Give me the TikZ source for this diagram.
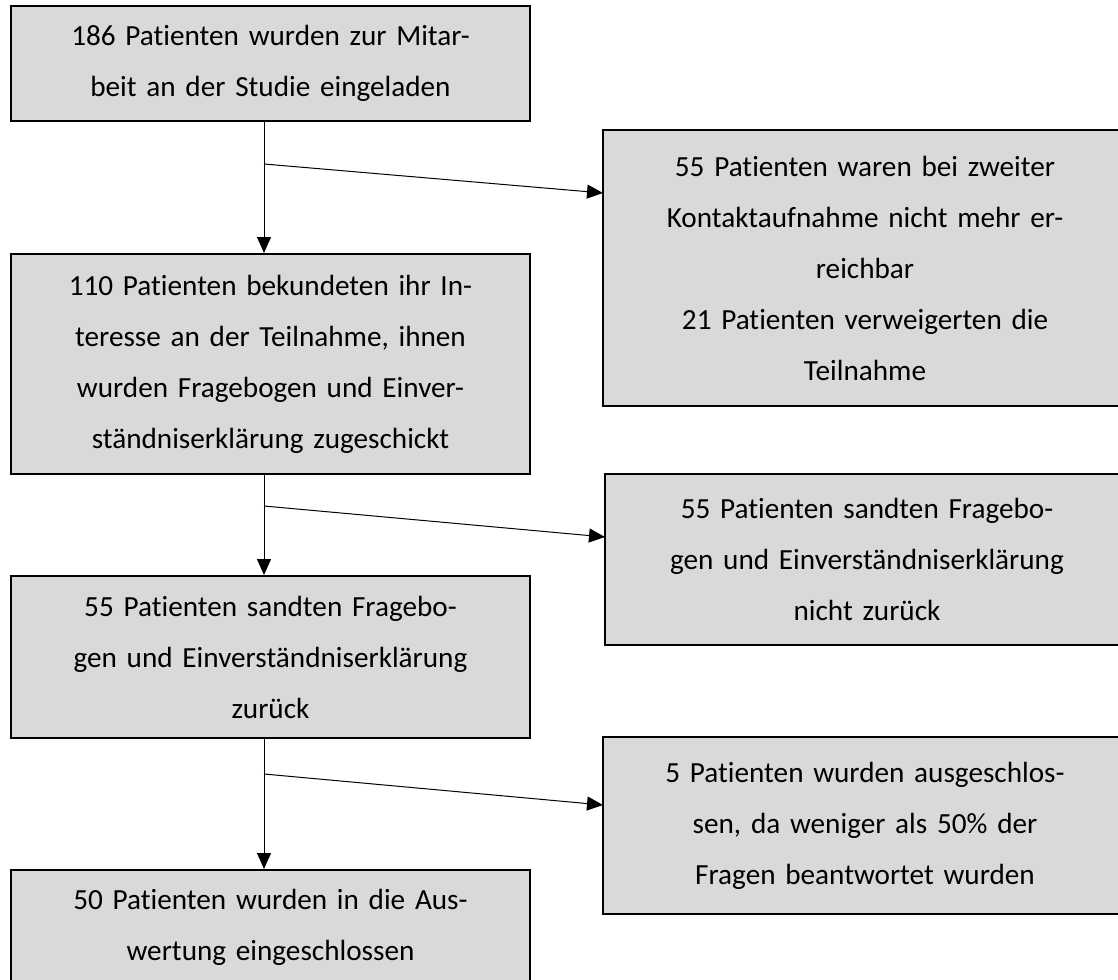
\documentclass[tikz,border=0pt]{standalone}
\usepackage{fontspec}
\setmainfont{Carlito}[Ligatures=NoCommon]
\usetikzlibrary{arrows.meta,backgrounds}
\definecolor{kastengrau}{HTML}{D9D9D9}

\begin{document}
\begin{tikzpicture}[x=0.5pt, y=-0.5pt, >={Triangle[length=8pt,width=7pt]},
    rand/.style={draw, line width=1pt, fill=kastengrau},
    kasten/.style={rand, anchor=north west,
        text width=255pt, inner xsep=2pt, minimum width=259.5pt, align=center,
        font=\fontsize{14.6}{25.5}\selectfont},
    rechts/.style={kasten, draw=none, fill=none, minimum width=261pt},
    pfeil/.style={->, line width=0.5pt}]
    \useasboundingbox (0,0) rectangle (1118,979);
    \clip (0,0) rectangle (1118,979);
    % Knoten
    \node (b1) [kasten, minimum height=57.5pt] at (10,5) {
        186 Patienten wurden zur Mitar-\\
        beit an der Studie eingeladen};
    \node (b2) [kasten, minimum height=110pt] at (10,253) {
        110 Patienten bekundeten ihr In-\\
        teresse an der Teilnahme, ihnen\\
        wurden Fragebogen und Einver-\\
        ständniserklärung zugeschickt};
    \node (b3) [kasten, minimum height=81pt] at (10,575) {
        55 Patienten sandten Fragebo-\\
        gen und Einverständniserklärung\\
        zurück};
    \node (b4) [kasten, minimum height=57pt] at (10,869) {
        50 Patienten wurden in die Aus-\\
        wertung eingeschlossen};
    \node (r1) [rechts, minimum height=137pt] at (603,130) {
        55 Patienten waren bei zweiter\\
        Kontaktaufnahme nicht mehr er-\\
        reichbar\\
        21 Patienten verweigerten die\\
        Teilnahme};
    \node (r2) [rechts, minimum height=84.5pt] at (605,474) {
        55 Patienten sandten Fragebo-\\
        gen und Einverständniserklärung\\
        nicht zurück};
    \node (r3) [rechts, minimum height=87.5pt] at (603,737) {
        5 Patienten wurden ausgeschlos-\\
        sen, da weniger als 50\% der\\
        Fragen beantwortet wurden};
    % rechte Kästen laufen über den Rand hinaus
    \begin{scope}[on background layer]
        \draw[rand] (r1.north west) rectangle ([xshift=40pt]r1.south east);
        \draw[rand] (r2.north west) rectangle ([xshift=40pt]r2.south east);
        \draw[rand] (r3.north west) rectangle ([xshift=40pt]r3.south east);
    \end{scope}
    % Abzweigungen
    \coordinate (g1) at ([xshift=-3.25pt,yshift=-21pt]b1.south);
    \coordinate (g2) at ([xshift=-3.25pt,yshift=-15.5pt]b2.south);
    \coordinate (g3) at ([xshift=-3.25pt,yshift=-17.5pt]b3.south);
    \coordinate (z1) at ([yshift=-31.5pt]r1.north west);
    \coordinate (z2) at ([yshift=-31.5pt]r2.north west);
    \coordinate (z3) at ([yshift=-34pt]r3.north west);
    % Pfeile
    \draw[pfeil] ([xshift=-3.25pt]b1.south) -- ([xshift=-3.25pt]b2.north);
    \draw[pfeil] ([xshift=-3.25pt]b2.south) -- ([xshift=-3.25pt]b3.north);
    \draw[pfeil] ([xshift=-3.25pt]b3.south) -- ([xshift=-3.25pt]b4.north);
    \draw[pfeil] (g1) -- (z1);
    \draw[pfeil] (g2) -- (z2);
    \draw[pfeil] (g3) -- (z3);
\end{tikzpicture}
\end{document}
